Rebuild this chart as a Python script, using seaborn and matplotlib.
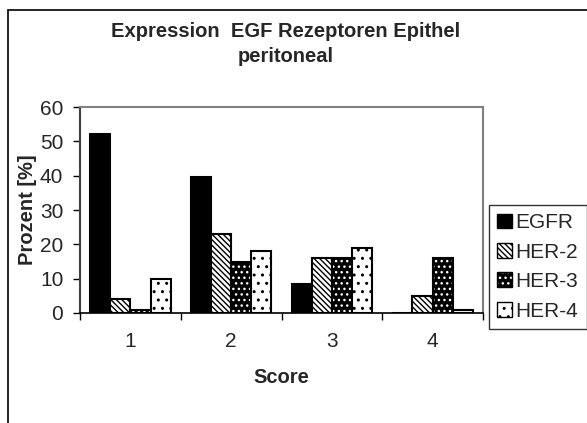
import matplotlib
matplotlib.use("Agg")
import matplotlib.pyplot as plt
import seaborn as sns
import pandas as pd
from matplotlib.patches import Rectangle, Patch

categories = ["1", "2", "3", "4"]
series = ["EGFR", "HER-2", "HER-3", "HER-4"]
egfr = [52, 39.5, 8.5, 0]
her2 = [4, 23, 16, 5]
her3 = [1, 15, 16, 16]
her4 = [10, 18, 19, 1]
title = "Expression  EGF Rezeptoren Epithel\nperitoneal"
yticks = [0, 10, 20, 30, 40, 50, 60]

values = {"EGFR": egfr, "HER-2": her2, "HER-3": her3, "HER-4": her4}
rows = []
for s in series:
    for c, v in zip(categories, values[s]):
        rows.append({"Score": c, "Serie": s, "Prozent": v})
df = pd.DataFrame(rows)

sns.set_style("white")
plt.rcParams['font.family'] = ['Liberation Sans', 'DejaVu Sans']
plt.rcParams['hatch.linewidth'] = 1.0

FS = 15
BFS = 14.5

fig = plt.figure(figsize=(5.87, 4.23), dpi=100)
ax = fig.add_axes([80/587, 1-313/423, (483-80)/587, (313-107)/423])

sns.barplot(data=df, x="Score", y="Prozent", hue="Serie", order=categories,
            hue_order=series, width=0.8, dodge=True, legend=False, ax=ax,
            palette=["black"]*4, saturation=1)

styles = {
    "EGFR": dict(fc="black", hatch=None, hc="black"),
    "HER-2": dict(fc="white", hatch="\\\\\\\\\\\\", hc="black"),
    "HER-3": dict(fc="black", hatch="...", hc="white"),
    "HER-4": dict(fc="white", hatch="..", hc="black"),
}
for s, cont in zip(series, ax.containers):
    st = styles[s]
    for p in cont.patches:
        p.set_facecolor(st["fc"])
        p.set_edgecolor("black")
        p.set_linewidth(1.5)
        if st["hatch"]:
            p.set_hatch(st["hatch"])
            p._hatch_color = matplotlib.colors.to_rgba(st["hc"])

ax.set_xlim(-0.5, 3.5)
ax.set_ylim(0, 60)
ax.set_yticks(yticks)
ax.set_yticklabels([str(t) for t in yticks], fontsize=FS)
ax.set_xticks([-0.5, 0.5, 1.5, 2.5, 3.5])
ax.set_xticklabels([])
ax.set_xticks(range(len(categories)), minor=True)
ax.set_xticklabels(categories, minor=True, fontsize=FS)
ax.tick_params(axis="x", which="major", direction="out", length=5, width=1, color="black", bottom=True)
ax.tick_params(axis="x", which="minor", length=0, pad=14)
ax.tick_params(axis="y", direction="out", length=5, width=1, color="black", left=True, pad=7)

for side in ["top", "right"]:
    ax.spines[side].set_color("#808080")
    ax.spines[side].set_linewidth(1.5)
ax.spines["left"].set_color("#404040")
ax.spines["left"].set_linewidth(1.5)
ax.spines["bottom"].set_color("black")
ax.spines["bottom"].set_linewidth(1.2)

ax.set_xlabel("Score", fontsize=BFS, fontweight="bold", labelpad=12)
ax.set_ylabel("Prozent [%]", fontsize=BFS, fontweight="bold", labelpad=2)
fig.text(286/587, 1-44/423, title, ha="center", va="center", fontsize=BFS,
         fontweight="bold", linespacing=1.4)

handles = []
for s in series:
    st = styles[s]
    h = Patch(facecolor=st["fc"], edgecolor="black", hatch=st["hatch"], label=s, linewidth=1)
    handles.append(h)
leg = fig.legend(handles=handles, loc="upper left", bbox_to_anchor=(489/587, 1-205/423),
                 frameon=True, fancybox=False, fontsize=FS, handlelength=0.72, handleheight=0.72,
                 handletextpad=0.15, borderpad=0.4, labelspacing=0.5, borderaxespad=0)
leg.get_frame().set_edgecolor("black")
leg.get_frame().set_linewidth(1)
for h, s in zip(leg.legend_handles, series):
    h._hatch_color = matplotlib.colors.to_rgba(styles[s]["hc"])

fig.patches.append(Rectangle((8/587, -0.1), 1.2, 1-10/423+0.1, transform=fig.transFigure,
                             fill=False, edgecolor="black", linewidth=1.2, figure=fig))

fig.savefig("out.png", dpi=100)
